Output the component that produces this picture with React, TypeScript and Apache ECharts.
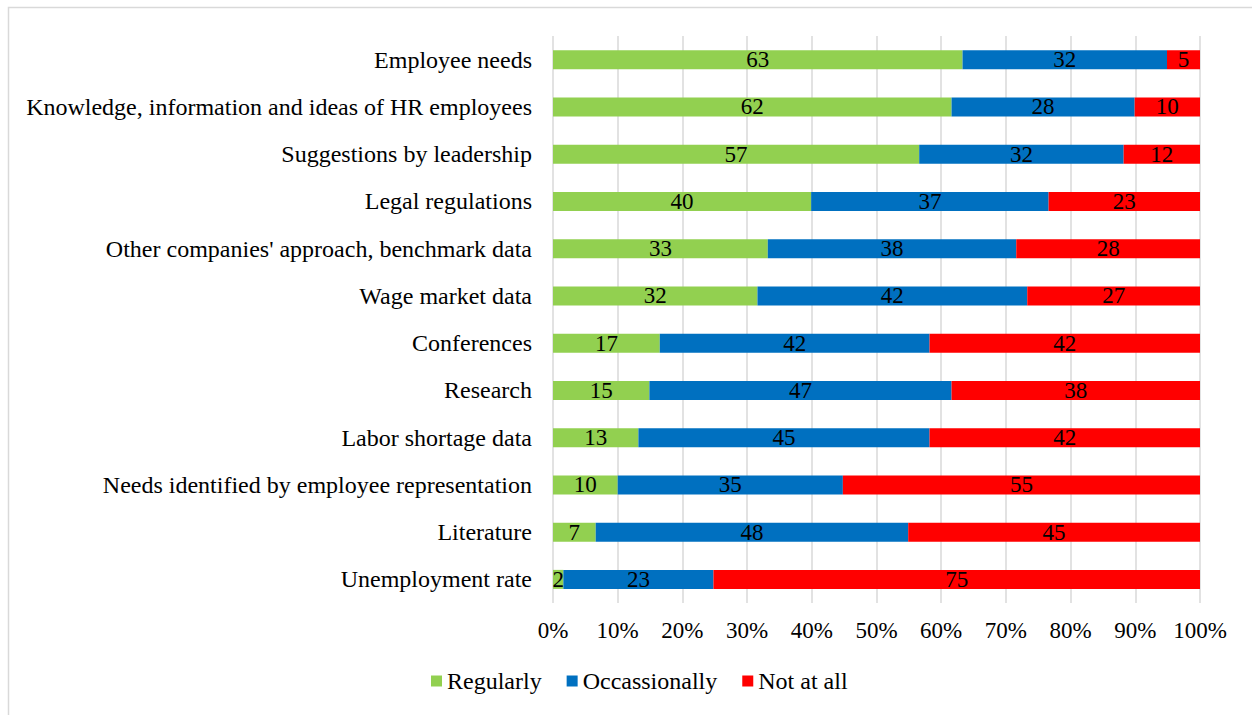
import React, { useEffect, useRef } from "react";
import * as echarts from "echarts";

const categories = [
  "Employee needs",
  "Knowledge, information and ideas of HR employees",
  "Suggestions by leadership",
  "Legal regulations",
  "Other companies' approach, benchmark data",
  "Wage market data",
  "Conferences",
  "Research",
  "Labor shortage data",
  "Needs identified by employee representation",
  "Literature",
  "Unemployment rate",
];

const regularly = [63.3, 61.6, 56.6, 39.9, 33.2, 31.6, 16.5, 14.9, 13.2, 10.0, 6.6, 1.6];
const occasionally = [31.6, 28.3, 31.6, 36.7, 38.4, 41.7, 41.7, 46.7, 45.0, 34.8, 48.3, 23.2];
const notAtAll = [5.1, 10.1, 11.8, 23.4, 28.4, 26.7, 41.8, 38.4, 41.8, 55.2, 45.1, 75.2];

const seriesNames = ["Regularly", "Occassionally", "Not at all"];
const seriesColors = ["#92D050", "#0070C0", "#FF0000"];

const FONT = "'Liberation Serif', 'Times New Roman', serif";

export default function App() {
  const ref = useRef<HTMLDivElement>(null);

  useEffect(() => {
    document.body.style.margin = "0";
    if (!ref.current) return;
    const chart = echarts.init(ref.current, null, { renderer: "svg" });
    const values = [regularly, occasionally, notAtAll];
    chart.setOption({
      animation: false,
      backgroundColor: "#ffffff",
      textStyle: { fontFamily: FONT },
      graphic: [
        {
          type: "rect",
          shape: { x: 8.5, y: 7.5, width: 1300, height: 800 },
          style: { fill: "none", stroke: "#d9d9d9", lineWidth: 1.5 },
          silent: true,
        },
      ],
      grid: { left: 553, right: 52, top: 36, bottom: 112 },
      legend: {
        data: seriesNames,
        left: 426,
        top: 664,
        icon: "rect",
        itemWidth: 11,
        itemHeight: 11,
        itemGap: 25,
        textStyle: { fontFamily: FONT, fontSize: 24, color: "#000" },
      },
      xAxis: {
        type: "value",
        min: 0,
        max: 100,
        interval: 10,
        axisLine: { show: false },
        axisTick: { show: false },
        splitLine: { show: true, lineStyle: { color: "#d9d9d9", width: 1.5 } },
        axisLabel: {
          formatter: "{value}%",
          fontFamily: FONT,
          fontSize: 23,
          color: "#000",
          margin: 16,
        },
      },
      yAxis: {
        type: "category",
        data: categories,
        inverse: true,
        axisLine: { show: false },
        axisTick: { show: false },
        axisLabel: { fontFamily: FONT, fontSize: 24, color: "#000", margin: 21 },
      },
      series: seriesNames.map((name, i) => ({
        name,
        type: "bar",
        stack: "total",
        barWidth: 19,
        data: values[i],
        itemStyle: { color: seriesColors[i] },
        label: {
          show: true,
          position: "inside",
          fontFamily: FONT,
          fontSize: 23,
          color: "#000",
          formatter: (p: any) => String(Math.round(p.value)),
        },
      })),
    });
    return () => chart.dispose();
  }, []);

  return <div ref={ref} style={{ width: 1252, height: 715, overflow: "hidden" }} />;
}
